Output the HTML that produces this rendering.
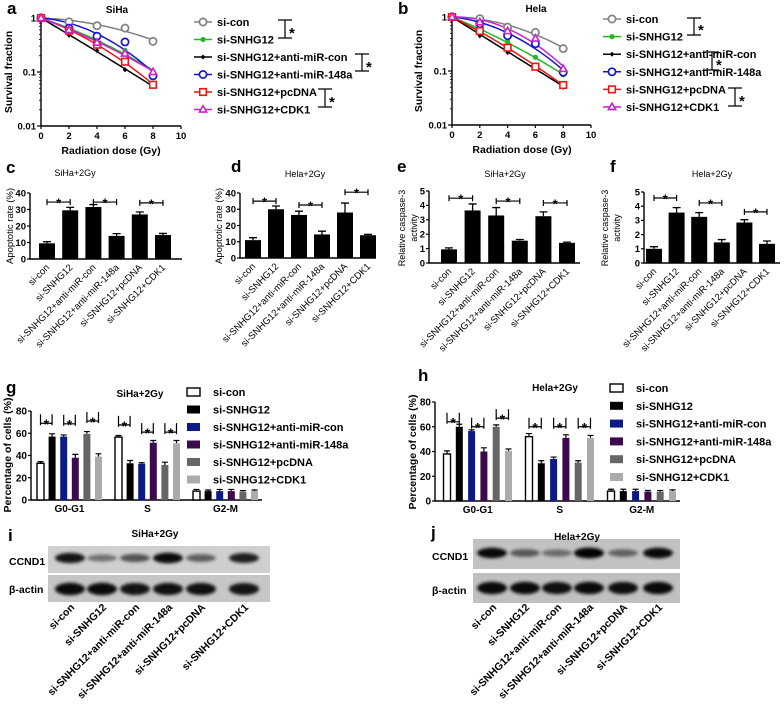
<!DOCTYPE html>
<html><head><meta charset="utf-8">
<style>
body{margin:0;background:#fff}
svg{display:block;font-family:"Liberation Sans",Arial,sans-serif}
.b{font-weight:bold}
</style></head>
<body>
<svg id="fig" width="784" height="708" viewBox="0 0 784 708">
<defs><filter id="blur" x="-50%" y="-80%" width="200%" height="260%"><feGaussianBlur stdDeviation="1.6"/></filter></defs>
<!-- panel letters -->
<text x="7" y="14" font-size="17" class="b">a</text>
<text x="398" y="14" font-size="17" class="b">b</text>
<text x="6" y="173" font-size="17" class="b">c</text>
<text x="231" y="172" font-size="17" class="b">d</text>
<text x="397" y="172" font-size="17" class="b">e</text>
<text x="610" y="172" font-size="17" class="b">f</text>
<text x="6" y="393" font-size="17" class="b">g</text>
<text x="418" y="381" font-size="17" class="b">h</text>
<text x="8" y="541" font-size="17" class="b">i</text>
<text x="431" y="538" font-size="17" class="b">j</text>
<!-- titles -->
<text x="117" y="13" font-size="10" class="b" text-anchor="middle">SiHa</text>
<text x="536" y="12" font-size="10" class="b" text-anchor="middle">Hela</text>
<text x="75" y="176" font-size="9" text-anchor="middle">SiHa+2Gy</text>
<text x="305" y="177" font-size="9" text-anchor="middle">Hela+2Gy</text>
<text x="505" y="177" font-size="9" text-anchor="middle">SiHa+2Gy</text>
<text x="712" y="177" font-size="9" text-anchor="middle">Hela+2Gy</text>
<text x="140" y="397" font-size="10" class="b" text-anchor="middle">SiHa+2Gy</text>
<text x="555" y="391" font-size="10" class="b" text-anchor="middle">Hela+2Gy</text>
<!-- axis titles -->
<text transform="translate(12,72) rotate(-90)" font-size="10.5" class="b" text-anchor="middle">Survival fraction</text>
<text x="111" y="154" font-size="10.5" class="b" text-anchor="middle">Radiation dose (Gy)</text>
<text transform="translate(422,71) rotate(-90)" font-size="10.5" class="b" text-anchor="middle">Survival fraction</text>
<text x="522" y="153" font-size="10.5" class="b" text-anchor="middle">Radiation dose (Gy)</text>
<text transform="translate(13,226) rotate(-90)" font-size="9.5" text-anchor="middle">Apoptotic rate (%)</text>
<text transform="translate(222,226) rotate(-90)" font-size="9.5" text-anchor="middle">Apoptotic rate (%)</text>
<text transform="translate(405,228) rotate(-90)" font-size="9" text-anchor="middle">Relative caspase-3</text>
<text transform="translate(417,228) rotate(-90)" font-size="9" text-anchor="middle">activity</text>
<text transform="translate(608,228) rotate(-90)" font-size="9" text-anchor="middle">Relative caspase-3</text>
<text transform="translate(620,228) rotate(-90)" font-size="9" text-anchor="middle">activity</text>
<text transform="translate(11,455) rotate(-90)" font-size="10.5" class="b" text-anchor="middle">Percentage of cells (%)</text>
<text transform="translate(416,452) rotate(-90)" font-size="10.5" class="b" text-anchor="middle">Percentage of cells (%)</text>
<!-- legend brackets a/b -->
<g stroke="#000" stroke-width="1.2" fill="none">
<path d="M278 20 H292 M285 20 V38 M278 38 H292"/>
<path d="M355 54 H369 M362 54 V71 M355 71 H369"/>
<path d="M318 89 H332 M325 89 V107 M318 107 H332"/>
</g>
<text x="289" y="38" font-size="15" class="b">*</text>
<text x="366" y="72" font-size="15" class="b">*</text>
<text x="329" y="107" font-size="15" class="b">*</text>
<g stroke="#000" stroke-width="1.2" fill="none">
<path d="M687 18 H701 M694 18 V35 M687 35 H701"/>
<path d="M705 52 H719 M712 52 V70 M705 70 H719"/>
<path d="M728 88 H742 M735 88 V106 M728 106 H742"/>
</g>
<text x="698" y="35" font-size="15" class="b">*</text>
<text x="716" y="70" font-size="15" class="b">*</text>
<text x="739" y="106" font-size="15" class="b">*</text>
<!-- blot boxes -->
<rect x="48" y="546" width="222" height="27" fill="#cfcfcf"/>
<rect x="48" y="575" width="222" height="27" fill="#c6c6c6"/>
<rect x="473" y="539" width="207" height="30" fill="#c2c2c2"/>
<rect x="473" y="573" width="207" height="30" fill="#c0c0c0"/>
<text x="155" y="537" font-size="10" class="b" text-anchor="middle">SiHa+2Gy</text>
<text x="577" y="540" font-size="10" class="b" text-anchor="middle">Hela+2Gy</text>
<text x="9" y="565" font-size="10.5" class="b">CCND1</text>
<text x="9" y="593" font-size="10.5" class="b">β-actin</text>
<text x="432" y="560" font-size="10.5" class="b">CCND1</text>
<text x="432" y="594" font-size="10.5" class="b">β-actin</text>
</svg>
<script>
const doses=[0,2,4,6,8];
const doseTicks=[0,2,4,6,8,10];
const survTicks=[1,0.1,0.01];
const survTickLabels=['1','0.1','0.01'];
const seriesNames=['si-con','si-SNHG12','si-SNHG12+anti-miR-con','si-SNHG12+anti-miR-148a','si-SNHG12+pcDNA','si-SNHG12+CDK1'];
const sihaSurvival=[[1,0.85,0.72,0.65,0.37],[1,0.6,0.36,0.25,0.1],[1,0.48,0.25,0.11,0.055],[1,0.65,0.46,0.36,0.085],[1,0.58,0.32,0.155,0.058],[1,0.6,0.35,0.22,0.1]];
const helaSurvival=[[1,0.93,0.65,0.52,0.26],[1,0.55,0.35,0.18,0.085],[1,0.45,0.22,0.12,0.05],[1,0.75,0.45,0.32,0.095],[1,0.55,0.27,0.12,0.055],[1,0.8,0.55,0.4,0.11]];
const apopSiha=[9.5,29.5,31.5,14,27,14.5];
const apopSihaErr=[1,1.8,1.5,1.4,1.5,1];
const apopSihaSig=[34.5,34.5,34];
const apopHela=[11,30,26.5,14.5,28,14];
const apopHelaErr=[1.5,2,2.3,2,5.8,0.5];
const apopHelaSig=[35,32.6,40.5];
const casSiha=[0.95,3.65,3.3,1.55,3.25,1.4];
const casSihaErr=[0.1,0.45,0.55,0.08,0.3,0.05];
const casSihaSig=[4.5,4.3,4.17];
const casHela=[1,3.55,3.25,1.45,2.85,1.35];
const casHelaErr=[0.15,0.35,0.3,0.2,0.2,0.2];
const casHelaSig=[4.58,4.23,3.6];
const apopTicks=[0,10,20,30,40];
const casTicks=[0,1,2,3,4,5];
const phases=['G0-G1','S','G2-M'];
const cycleTicks=[0,20,40,60,80];
const cycleSiha=[[33,57,57,38,59.5,39],[56.5,33,32.5,51.5,31.5,51],[8,8,8,8,7.5,8]];
const cycleSihaErr=[[1.5,2.5,1.5,3,2,2.5],[1.5,2.5,1,2,2.5,2.5],[1.5,1,1.5,1.5,1,1]];
const cycleSihaSig=[[69,68.5,71],[67.5,61,61]];
const cycleHela=[[38,60,56.5,40,60,40.5],[52,30.5,34,51,31,51],[8,8,8,7.5,7.5,8]];
const cycleHelaErr=[[2.5,2,1,3,1.5,1.5],[2.5,2,1.5,2.5,1.5,2],[1.5,1.5,1.5,1,1,1]];
const cycleHelaSig=[[64,60,67],[60,60,60]];
const ccnd1Siha=[0.9,0.45,0.6,0.95,0.55,0.85];
const actinSiha=[0.95,0.95,0.9,0.92,0.92,0.9];
const ccnd1Hela=[0.95,0.55,0.45,0.98,0.5,0.95];
const actinHela=[0.95,0.95,0.92,0.95,0.93,0.95];

const lineColors=['#808080','#22b822','#000000','#1515d0','#ee1515','#cc22cc'];
const lineMarkers=['circle','dot','diamond','circle','square','triangle'];
const barFills=['#ffffff','#000000','#0c1a86','#3a0a4c','#666666','#ababab'];

const NS='http://www.w3.org/2000/svg';
const svg=document.getElementById('fig');
function mk(tag,attrs,parent){const e=document.createElementNS(NS,tag);for(const k in attrs)e.setAttribute(k,attrs[k]);(parent||svg).appendChild(e);return e;}
function txt(x,y,s,attrs){const e=mk('text',Object.assign({x:x,y:y},attrs||{}));e.textContent=s;return e;}

function marker(kind,x,y,color){
  let e;
  if(kind==='circle') e=mk('circle',{cx:x,cy:y,r:3.6,fill:'#fff',stroke:color,'stroke-width':1.7});
  else if(kind==='dot') e=mk('circle',{cx:x,cy:y,r:2.6,fill:color});
  else if(kind==='diamond') e=mk('path',{d:`M${x} ${y-2.6}L${x+2.2} ${y}L${x} ${y+2.6}L${x-2.2} ${y}Z`,fill:color});
  else if(kind==='square') e=mk('rect',{x:x-3.3,y:y-3.3,width:6.6,height:6.6,fill:'#fff',stroke:color,'stroke-width':1.6});
  else e=mk('path',{d:`M${x} ${y-3.8}L${x+3.6} ${y+2.6}L${x-3.6} ${y+2.6}Z`,fill:'#fff',stroke:color,'stroke-width':1.6});
  return e;
}

function lqFit(vals){
  let s2=0,s3=0,s4=0,r1=0,r2=0;
  doses.forEach((d,i)=>{const y=Math.log10(vals[i]);s2+=d*d;s3+=d*d*d;s4+=d*d*d*d;r1+=-y*d;r2+=-y*d*d;});
  const det=s2*s4-s3*s3;
  let a=(r1*s4-r2*s3)/det, b=(s2*r2-s3*r1)/det;
  if(b<0){b=0;a=r1/s2;}
  return d=>Math.pow(10,-a*d-b*d*d);
}

function drawSurvival(cfg,data){
  const xs=d=>cfg.x0+d/10*(cfg.x10-cfg.x0);
  const ys=v=>cfg.yTop+(-Math.log10(v))/2*(cfg.yBot-cfg.yTop);
  const ax=mk('path',{d:`M${cfg.x0} ${cfg.yTop} V${cfg.yBot} H${cfg.x10}`,stroke:'#000','stroke-width':1.4,fill:'none'});
  
  
  doseTicks.forEach(t=>{
    const tk=mk('line',{x1:xs(t),x2:xs(t),y1:cfg.yBot,y2:cfg.yBot+3,stroke:'#000','stroke-width':1.2});
    
    
    const tl=txt(xs(t),cfg.yBot+13,String(t),{'font-size':9.5,'font-weight':'bold','text-anchor':'middle'});
    
    
  });
  survTicks.forEach((t,i)=>{
    const tk=mk('line',{x1:cfg.x0-4,x2:cfg.x0,y1:ys(t),y2:ys(t),stroke:'#000','stroke-width':1.2});
    
    
    const tl=txt(cfg.x0-5,ys(t)+3.5,survTickLabels[i],{'font-size':9.5,'font-weight':'bold','text-anchor':'end'});
    
    
    if(i<survTicks.length-1){for(let m=2;m<10;m++){
      const mt=mk('line',{x1:cfg.x0-2,x2:cfg.x0,y1:ys(t/10*m),y2:ys(t/10*m),stroke:'#000','stroke-width':0.8});
      
      
    }}
  });
  data.forEach((vals,s)=>{
    const f=lqFit(vals);
    let p='';
    for(let d=0;d<=8.001;d+=0.25){p+=(p?'L':'M')+xs(d).toFixed(1)+' '+ys(f(d)).toFixed(1);}
    const ln=mk('path',{d:p,stroke:lineColors[s],'stroke-width':1.5,fill:'none'});
    
    
  });
  data.forEach((vals,s)=>{
    vals.forEach((v,i)=>{
      const pt=marker(lineMarkers[s],xs(doses[i]),ys(v),lineColors[s]);
      
      
    });
  });
  seriesNames.forEach((n,s)=>{
    const y=cfg.legY+s*cfg.legStep;
    const ll=mk('line',{x1:cfg.legX-9,x2:cfg.legX+9,y1:y,y2:y,stroke:lineColors[s],'stroke-width':1.5});
    
    
    const lm=marker(lineMarkers[s],cfg.legX,y,lineColors[s]);
    
    
    const lt=txt(cfg.legX+14,y+4,n,{'font-size':11,'font-weight':'bold'});
    
    
  });
}

function bracket(x1,x2,y,down,up,size,name){
  const g=mk('path',{d:`M${x1} ${y-up}V${y+down}M${x1} ${y}H${x2}M${x2} ${y-up}V${y+down}`,stroke:'#000','stroke-width':1.2,fill:'none'});
  
  
  const st=txt((x1+x2)/2,y+size*0.42,'*',{'font-size':size,'font-weight':'bold','text-anchor':'middle'});
  
  
}

function drawBars(cfg,vals,errs,sig,ticks){
  const ys=v=>cfg.y0-v/cfg.max*(cfg.y0-cfg.yTop);
  const xc=i=>cfg.first+i*cfg.step;
  const ax=mk('path',{d:`M${cfg.ax} ${cfg.yTop} V${cfg.y0} H${cfg.end}`,stroke:'#000','stroke-width':1.4,fill:'none'});
  
  
  ticks.forEach(t=>{
    const tk=mk('line',{x1:cfg.ax-3,x2:cfg.ax,y1:ys(t),y2:ys(t),stroke:'#000','stroke-width':1.2});
    
    
    const tl=txt(cfg.ax-4,ys(t)+3.3,String(t),{'font-size':9.5,'font-weight':'bold','text-anchor':'end'});
    
    
  });
  vals.forEach((v,i)=>{
    const eb=mk('path',{d:`M${xc(i)} ${ys(v)}V${ys(v+errs[i])}M${xc(i)-4} ${ys(v+errs[i])}H${xc(i)+4}`,stroke:'#000','stroke-width':1.3,fill:'none'});
    
    
    const r=mk('rect',{x:xc(i)-cfg.bw/2,y:ys(v),width:cfg.bw,height:cfg.y0-ys(v),fill:'#000'});
    
    
    const tl=txt(0,0,seriesNames[i],{'font-size':9.5,'text-anchor':'end',transform:`translate(${xc(i)+3},${cfg.y0+9}) rotate(-45)`});
    
    
  });
  sig.forEach((s,k)=>bracket(xc(2*k),xc(2*k+1),ys(s),3,3,13,'significance-bracket'));
}

function drawGrouped(cfg,vals,errs,sig,lgX,lgY,lgStep){
  const ys=v=>cfg.y0-v/80*(cfg.y0-cfg.yTop);
  const xc=(g,i)=>cfg.first+g*cfg.gstep+i*cfg.step;
  const ax=mk('path',{d:`M${cfg.ax} ${cfg.yTop} V${cfg.y0} H${cfg.end}`,stroke:'#000','stroke-width':1.4,fill:'none'});
  
  
  cycleTicks.forEach(t=>{
    const tk=mk('line',{x1:cfg.ax-3,x2:cfg.ax,y1:ys(t),y2:ys(t),stroke:'#000','stroke-width':1.2});
    
    
    const tl=txt(cfg.ax-4,ys(t)+3.5,String(t),{'font-size':10,'font-weight':'bold','text-anchor':'end'});
    
    
  });
  vals.forEach((grp,g)=>{
    grp.forEach((v,i)=>{
      const eb=mk('path',{d:`M${xc(g,i)} ${ys(v)}V${ys(v+errs[g][i])}M${xc(g,i)-3} ${ys(v+errs[g][i])}H${xc(g,i)+3}`,stroke:'#000','stroke-width':1.2,fill:'none'});
      
      
      const r=mk('rect',{x:xc(g,i)-cfg.bw/2,y:ys(v),width:cfg.bw,height:cfg.y0-ys(v),fill:barFills[i],stroke:i===0?'#000':'none','stroke-width':1.4});
      
      
    });
    const gl=txt(xc(g,2.5),cfg.y0+12,phases[g],{'font-size':10,'font-weight':'bold','text-anchor':'middle'});
    
    
  });
  sig.forEach((row,g)=>row.forEach((s,k)=>bracket(xc(g,2*k),xc(g,2*k+1),ys(s),2,9,14,'significance-bracket')));
  seriesNames.forEach((n,s)=>{
    const y=lgY+s*lgStep;
    const sw=mk('rect',{x:lgX,y:y-4,width:13,height:8,fill:barFills[s],stroke:s===0?'#000':'none','stroke-width':1.4});
    
    
    const lt=txt(lgX+26,y+4,n,{'font-size':11,'font-weight':'bold'});
    
    
  });
}

function drawBlot(lanes,ccnd,actin,yC,yA,labelY){
  lanes.forEach((x,i)=>{
    const b1=mk('ellipse',{cx:x,cy:yC,rx:15,ry:2+3.5*ccnd[i],fill:'#000','fill-opacity':ccnd[i],filter:'url(#blur)'});
    
    
    const b2=mk('ellipse',{cx:x,cy:yA,rx:15,ry:2+4.5*actin[i],fill:'#000','fill-opacity':actin[i],filter:'url(#blur)'});
    
    
    const tl=txt(0,0,seriesNames[i],{'font-size':10.5,'font-weight':'bold','text-anchor':'end',transform:`translate(${x+5},${labelY}) rotate(-45)`});
    
    
  });
}

drawSurvival({id:'survival-siha',x0:41,x10:181,yTop:18,yBot:126,legX:203,legY:22,legStep:17.5},sihaSurvival);
drawSurvival({id:'survival-hela',x0:452,x10:591,yTop:17,yBot:125,legX:612,legY:19,legStep:17.6},helaSurvival);
drawBars({id:'apoptosis-siha',ax:30,y0:259,yTop:193,max:40,first:47,step:23.2,end:182,bw:16},apopSiha,apopSihaErr,apopSihaSig,apopTicks);
drawBars({id:'apoptosis-hela',ax:240,y0:258,yTop:193,max:40,first:253,step:23,end:376,bw:16},apopHela,apopHelaErr,apopHelaSig,apopTicks);
drawBars({id:'caspase-siha',ax:429,y0:263,yTop:191,max:5,first:449,step:23.6,end:580,bw:16},casSiha,casSihaErr,casSihaSig,casTicks);
drawBars({id:'caspase-hela',ax:644,y0:263,yTop:192,max:5,first:654,step:22.6,end:780,bw:16},casHela,casHelaErr,casHelaSig,casTicks);
drawGrouped({id:'cycle-siha',ax:31,y0:500,yTop:411,first:40.5,step:11.6,gstep:78,end:262,bw:7},cycleSiha,cycleSihaErr,cycleSihaSig,187,392,17.5);
drawGrouped({id:'cycle-hela',ax:435,y0:501,yTop:402,first:447,step:12.3,gstep:82,end:680,bw:7},cycleHela,cycleHelaErr,cycleHelaSig,610,388,17.8);
drawBlot([70,102,135,168,201,244],ccnd1Siha,actinSiha,558,589,608);
drawBlot([492,525,557,589,623,658],ccnd1Hela,actinHela,553,588,608);
</script>
</body></html>
